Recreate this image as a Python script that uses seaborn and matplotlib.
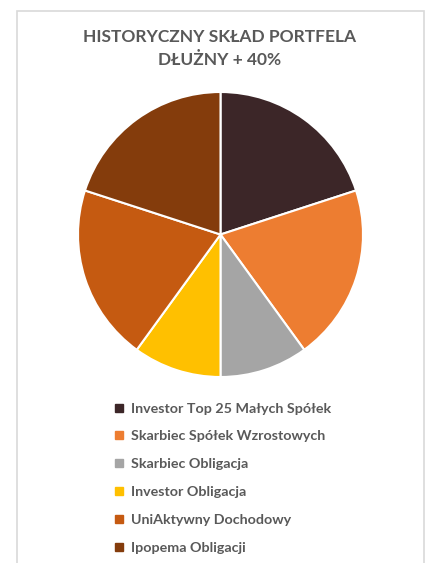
import matplotlib
matplotlib.use("Agg")
import matplotlib.pyplot as plt
import seaborn as sns
from matplotlib.lines import Line2D
from matplotlib.patches import Rectangle

# Data
funds = ["Investor Top 25 Małych Spółek", "Skarbiec Spółek Wzrostowych", "Skarbiec Obligacja",
         "Investor Obligacja", "UniAktywny Dochodowy", "Ipopema Obligacji"]
shares = [20, 20, 10, 10, 20, 20]
fund_colors = ["#3C2628", "#ED7D31", "#A5A5A5", "#FFC000", "#C55A11", "#843C0C"]
title = "HISTORYCZNY SKŁAD PORTFELA\nDŁUŻNY + 40%"

sns.set_theme(style="white")
plt.rcParams['font.family'] = ['Lato', 'DejaVu Sans']
palette = sns.color_palette(fund_colors)
text_grey = "#595959"

fig = plt.figure(figsize=(4.25, 5.63), dpi=100)
W, H = 425, 563

# chart frame
fig.add_artist(Rectangle((16.5 / W, -0.05), (423.5 - 16.5) / W, 1.05 - 10.5 / H,
                         transform=fig.transFigure, fill=False, edgecolor="#D9D9D9", lw=1.2))

cx, cy, r = 220.5, 234.5, 142.5
ax = fig.add_axes([(cx - r) / W, (H - cy - r) / H, 2 * r / W, 2 * r / H])
ax.pie(shares, colors=palette, startangle=90, counterclock=False,
       wedgeprops=dict(edgecolor="white", linewidth=1.5))
ax.set_xlim(-1, 1)
ax.set_ylim(-1, 1)
ax.axis("off")

fig.text(0.5165, 1 - 48.5 / H, title, ha="center", va="center", fontsize=12.5, fontweight="bold",
         color=text_grey, linespacing=1.55)

handles = [Line2D([], [], marker="s", linestyle="", markersize=5.5, color=c) for c in palette]
leg = fig.legend(handles, funds, loc="upper left", bbox_to_anchor=(112 / W, 1 - 402.5 / H),
                 frameon=False, fontsize=10.3, labelspacing=1.11, handletextpad=0.3,
                 handlelength=1.0, borderpad=0, borderaxespad=0)
for t in leg.get_texts():
    t.set_color(text_grey)
    t.set_fontweight("bold")

fig.savefig("out.png", dpi=100, facecolor="white")
